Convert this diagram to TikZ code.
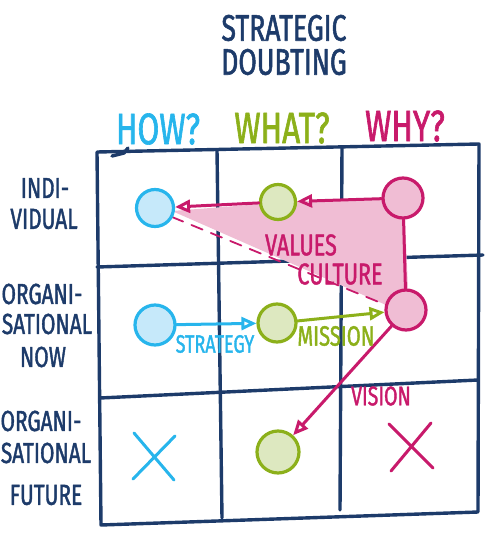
\documentclass[tikz,border=0pt]{standalone}
\usepackage{fontspec}
\newfontfamily\hand[FakeStretch=0.72, FakeBold=1.4]{Fira Sans}
\usetikzlibrary{arrows.meta}
\definecolor{navy}{HTML}{1D3B6A}
\definecolor{howblue}{HTML}{27B5EC}
\definecolor{whatgreen}{HTML}{8CB01A}
\definecolor{whypink}{HTML}{C81A6B}
\definecolor{howfill}{HTML}{C6E9FA}
\definecolor{whatfill}{HTML}{DDE8C0}
\definecolor{whyfill}{HTML}{F0BDD4}

\begin{document}
\begin{tikzpicture}[x=1pt, y=-1pt, >={Triangle[open,length=15pt,width=13pt]},
		line cap=round, line join=round,
		gridline/.style={navy, line width=3.4pt},
		blob/.style={circle, line width=3.2pt, inner sep=0pt, minimum size=#1},
		hand/.style={font=\hand\fontsize{#1pt}{#1pt}\selectfont, inner sep=0pt},
		link/.style={->, line width=3pt}]
			\useasboundingbox (0,0) rectangle (496,538);
			% title and column heads
			\node[hand=37, navy] (title1) at (284,28) {STRATEGIC};
			\node[hand=37, navy] (title2) at (284,62) {DOUBTING};
			\node[hand=44, howblue] (how) at (158,129) {HOW?};
			\node[hand=44, whatgreen] (what) at (282,128) {WHAT?};
			\node[hand=44, whypink] (why) at (405,126) {WHY?};
			% row heads
			\node[hand=29, navy] (indi1) at (45,188) {INDI-};
			\node[hand=29, navy] (indi2) at (44,219) {VIDUAL};
			\node[hand=29, navy] (orgn1) at (42,294) {ORGANI-};
			\node[hand=29, navy] (orgn2) at (47,324) {SATIONAL};
			\node[hand=29, navy] (orgn3) at (43,357) {NOW};
			\node[hand=29, navy] (orgf1) at (41,421) {ORGANI-};
			\node[hand=29, navy] (orgf2) at (46,453) {SATIONAL};
			\node[hand=29, navy] (orgf3) at (46,495) {FUTURE};
			% grid
			\draw[gridline] (97,152) -- (479,144) -- (478,512) -- (101,525) -- cycle;
			\draw[gridline] (112,156) -- (124,153) -- (128,148);
			\draw[gridline] (97,267) -- (483,255);
			\draw[gridline] (100,398) -- (478,380);
			\draw[gridline] (217,150) -- (222,518);
			\draw[gridline] (342,147) -- (340,510);
			% shaded values area
			\fill[whyfill] (172,211) -- (300,201) -- (404,198) -- (408,288) -- (386,305) -- cycle;
			\draw[whypink, line width=1.8pt, dash pattern=on 12pt off 9pt] (172,217) -- (386,305);
			% circles
			\node[blob=37pt, draw=howblue, fill=howfill] (howI) at (155,208) {};
			\node[blob=35pt, draw=whatgreen, fill=whatfill] (whatI) at (278,202) {};
			\node[blob=40pt, draw=whypink, fill=whyfill] (whyI) at (403,198) {};
			\node[blob=40pt, draw=howblue, fill=howfill] (howN) at (155,325) {};
			\node[blob=38pt, draw=whatgreen, fill=whatfill] (whatN) at (277,323) {};
			\node[blob=40pt, draw=whypink, fill=whyfill] (whyN) at (406,310) {};
			\node[blob=42pt, draw=whatgreen, fill=whatfill] (whatF) at (278,452) {};
			% crosses
			\draw[howblue, line width=3pt] (134,433) -- (174,480) (133,479) -- (175,436);
			\draw[whypink, line width=3pt] (389,424) -- (433,468) (391,471) -- (431,423);
			% links
			\draw[link, whypink] (whyI) -- (whatI);
			\draw[link, whypink] (whatI) -- (howI);
			\draw[whypink, line width=3pt] (whyI) -- (whyN);
			\draw[link, howblue] (howN) -- (whatN);
			\draw[link, whatgreen] (whatN) -- (whyN);
			\draw[link, whypink] (whyN) -- (whatF);
			% link labels
			\node[hand=30, whypink] (values) at (301,245) {VALUES};
			\node[hand=30, whypink] (culture) at (340,274) {CULTURE};
			\node[hand=25, howblue] (strategy) at (215,344) {STRATEGY};
			\node[hand=28, whatgreen] (mission) at (336,336) {MISSION};
			\node[hand=27, whypink] (vision) at (381,396) {VISION};
		\end{tikzpicture}
\end{document}
